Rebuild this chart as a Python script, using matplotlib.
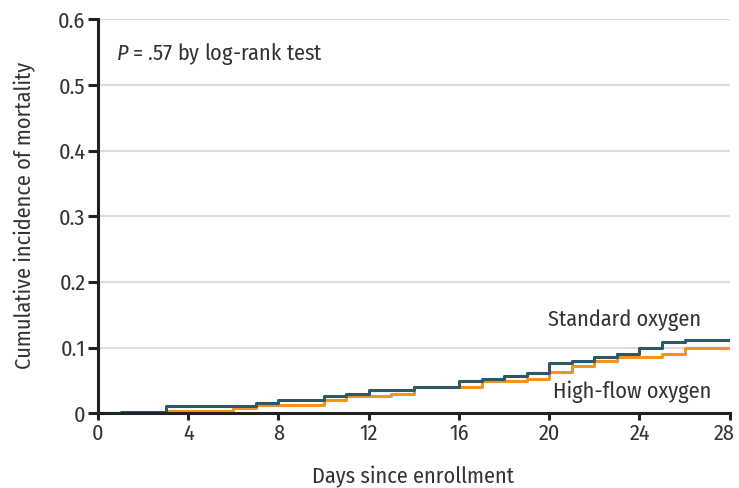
import matplotlib
matplotlib.use("Agg")
import matplotlib.pyplot as plt
from matplotlib import font_manager
from matplotlib.transforms import ScaledTranslation

fams = {f.name for f in font_manager.fontManager.ttflist}
FONT = "Fira Sans Condensed" if "Fira Sans Condensed" in fams else "Roboto Condensed"
plt.rcParams['font.family'] = [FONT, 'DejaVu Sans']
plt.rcParams['mathtext.fontset'] = 'custom'
plt.rcParams['mathtext.it'] = FONT + ':italic'
plt.rcParams['mathtext.rm'] = FONT

# Data (step functions: day of change, cumulative incidence)
std_days = [0, 1, 3, 7, 8, 10, 11, 12, 14, 16, 17, 18, 19, 20, 21, 22, 23, 24, 25, 26, 28]
std_vals = [0, 0.002, 0.011, 0.016, 0.021, 0.026, 0.030, 0.035, 0.040, 0.049, 0.053,
            0.057, 0.062, 0.077, 0.080, 0.085, 0.090, 0.099, 0.108, 0.112, 0.112]
hf_days = [0, 3, 6, 7, 10, 11, 13, 14, 17, 19, 20, 21, 22, 23, 25, 26, 28]
hf_vals = [0, 0.003, 0.008, 0.012, 0.021, 0.026, 0.030, 0.040, 0.049, 0.053, 0.063,
           0.072, 0.080, 0.085, 0.090, 0.099, 0.099]
x_ticks = [0, 4, 8, 12, 16, 20, 24, 28]
y_ticks = [0, 0.1, 0.2, 0.3, 0.4, 0.5, 0.6]
y_ticklabels = ["0", "0.1", "0.2", "0.3", "0.4", "0.5", "0.6"]

GREEN = "#2d5865"
ORANGE = "#f6931d"
TXT = "#333333"
FS = 16

fig = plt.figure(figsize=(7.39, 4.88), dpi=100)
ax = fig.add_axes([0.1326, 0.1531, 0.8548, 0.8070])

for y in y_ticks[1:]:
    ax.axhline(y, color="#dcdcdc", lw=1.6, zorder=0)

ax.step(hf_days, hf_vals, where="post", color=ORANGE, lw=2.2, zorder=2)
ax.step(std_days, std_vals, where="post", color=GREEN, lw=2.2, zorder=3)

ax.set_xlim(0, 28)
ax.set_ylim(0, 0.6)
ax.set_xticks(x_ticks)
ax.set_yticks(y_ticks)
ax.set_yticklabels(y_ticklabels)
for s in ["top", "right"]:
    ax.spines[s].set_visible(False)
for s in ["left", "bottom"]:
    ax.spines[s].set_linewidth(2.2)
    ax.spines[s].set_color("#222222")
    ax.spines[s].set_zorder(4)
ax.tick_params(axis="y", direction="out", length=7, width=2.2, color="#222222",
               labelsize=FS, labelcolor=TXT, pad=2)
ax.tick_params(axis="x", direction="out", length=5, width=2.2, color="#222222",
               labelsize=FS, labelcolor=TXT, pad=2)
last = ax.get_xticklabels()[-1]
last.set_transform(last.get_transform() + ScaledTranslation(-4 / 72, 0, fig.dpi_scale_trans))

fig.text(413 / 739, 1 - 483 / 488, "Days since enrollment", fontsize=FS, color=TXT,
         ha="center", va="baseline")
fig.text(25 / 739, 1 - 215.5 / 488, "Cumulative incidence of mortality", fontsize=FS,
         color=TXT, ha="center", va="center", rotation=90)

ax.text(0.78, 0.539, r"$P$ = .57 by log-rank test", fontsize=FS, color=TXT,
        va="baseline", ha="left")
ax.text(19.95, 0.1328, "Standard oxygen", fontsize=FS, color=TXT, va="baseline", ha="left")
ax.text(20.15, 0.0229, "High-flow oxygen", fontsize=FS, color=TXT, va="baseline", ha="left")

fig.savefig("out.png", dpi=100)
